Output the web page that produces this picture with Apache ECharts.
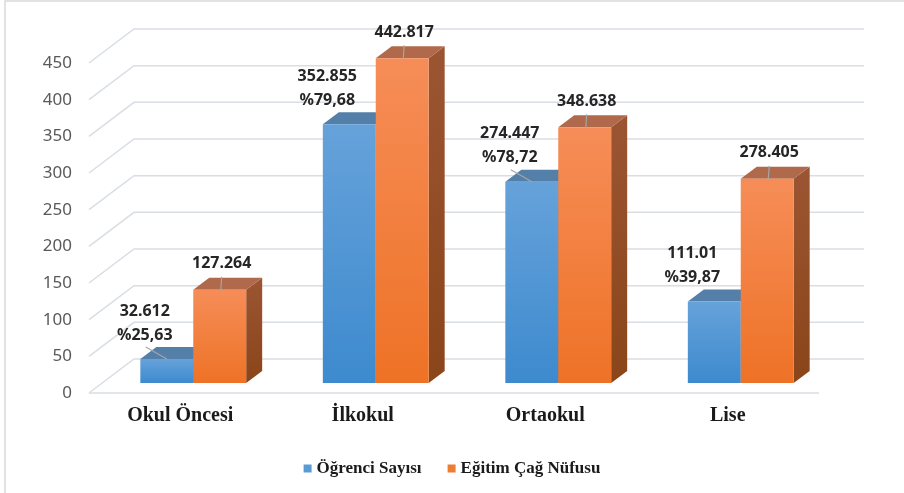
<!DOCTYPE html>
<html>
<head>
<meta charset="utf-8" />
<title>Öğrenci Sayısı / Eğitim Çağ Nüfusu</title>
<script src="https://cdn.jsdelivr.net/npm/echarts@6/dist/echarts.min.js"></script>
<style>
  html, body { margin: 0; padding: 0; background: #fff; }
  #main { width: 904px; height: 493px; }
</style>
</head>
<body>
<div id="main"></div>
<script>
// verileri
var categories = ['Okul Öncesi', 'İlkokul', 'Ortaokul', 'Lise'];
var ogrenciSayisi = [32.612, 352.855, 274.447, 111.01];
var ogrenciLabels = ['32.612', '352.855', '274.447', '111.01'];
var ogrenciOran = ['%25,63', '%79,68', '%78,72', '%39,87'];
var nufus = [127.264, 442.817, 348.638, 278.405];
var nufusLabels = ['127.264', '442.817', '348.638', '278.405'];
var yTicks = [0, 50, 100, 150, 200, 250, 300, 350, 400, 450];
var seriesNames = ['Öğrenci Sayısı', 'Eğitim Çağ Nüfusu'];

// 3B görünüm ayarları
var WALL_DX = 45, WALL_DY = -34;   // arka duvar
var BAR_DX = 13, BAR_DY = -10;     // çubuk ön yüzü
var DEPTH_DX = 16, DEPTH_DY = -12; // çubuk derinliği
var blueLeader = [1, 0, 1, 0];
var labelFont = 'bold 16px "Noto Sans"';

function gridRender(params, api) {
  var v = api.value(1);
  var p = api.coord([0, v]);
  var band = api.size([1, 0])[0];
  var left = p[0] - band / 2;
  var right = left + band * categories.length;
  var st = { stroke: '#d9dee5', lineWidth: 1.5, fill: null };
  var ch = [
    { type: 'polyline', shape: { points: [[left, p[1]], [left + WALL_DX, p[1] + WALL_DY], [right + WALL_DX, p[1] + WALL_DY]] }, style: st }
  ];
  if (v === 0) {
    ch.push({ type: 'line', shape: { x1: left, y1: p[1], x2: right, y2: p[1] }, style: st });
  }
  return { type: 'group', children: ch };
}

function barRender(which) {
  return function (params, api) {
    var idx = api.value(0), val = api.value(1);
    var base = api.coord([idx, 0]);
    var top = api.coord([idx, val]);
    var band = api.size([1, 0])[0];
    var w = band * 0.29;
    var x0 = which === 0 ? base[0] - w + BAR_DX : base[0] + BAR_DX;
    var x1 = x0 + w;
    var yb = base[1] + BAR_DY, yt = top[1] + BAR_DY;
    var front, topCol, side0, side1;
    if (which === 0) {
      front = ['#66a2da', '#3d8ace'];
      topCol = '#537fa8';
      side0 = '#3f6d98'; side1 = '#2f5b85';
    } else {
      front = ['#f68d58', '#ee7226'];
      topCol = '#b0694a';
      side0 = '#9b5533'; side1 = '#8a4519';
    }
    var ch = [];
    ch.push({
      type: 'polygon',
      shape: { points: [[x1, yt], [x1 + DEPTH_DX, yt + DEPTH_DY], [x1 + DEPTH_DX, yb + DEPTH_DY], [x1, yb]] },
      style: { fill: new echarts.graphic.LinearGradient(0, 0, 0, 1, [{ offset: 0, color: side0 }, { offset: 1, color: side1 }]) }
    });
    ch.push({
      type: 'polygon',
      shape: { points: [[x0, yt], [x1, yt], [x1 + DEPTH_DX, yt + DEPTH_DY], [x0 + DEPTH_DX, yt + DEPTH_DY]] },
      style: { fill: topCol }
    });
    ch.push({
      type: 'rect',
      shape: { x: x0, y: yt, width: w, height: yb - yt },
      style: { fill: new echarts.graphic.LinearGradient(0, 0, 0, 1, [{ offset: 0, color: front[0] }, { offset: 1, color: front[1] }]) }
    });
    var cx = (x0 + x1) / 2;
    var leader = { stroke: '#a6a6a6', lineWidth: 1.2 };
    if (which === 0) {
      var lx = cx - 22, ly = yt - 36;
      if (blueLeader[idx]) {
        ch.push({ type: 'line', shape: { x1: cx - 21, y1: yt - 12, x2: cx, y2: yt }, style: leader });
      }
      ch.push({ type: 'text', style: { text: ogrenciLabels[idx], x: lx, y: ly - 12, font: labelFont, fill: '#262626', align: 'center', verticalAlign: 'middle' } });
      ch.push({ type: 'text', style: { text: ogrenciOran[idx], x: lx, y: ly + 12, font: labelFont, fill: '#262626', align: 'center', verticalAlign: 'middle' } });
    } else {
      ch.push({ type: 'line', shape: { x1: cx + 2, y1: yt - 13, x2: cx + 1, y2: yt + 1 }, style: leader });
      ch.push({ type: 'text', style: { text: nufusLabels[idx], x: cx + 2, y: yt - 26, font: labelFont, fill: '#262626', align: 'center', verticalAlign: 'middle' } });
    }
    return { type: 'group', children: ch };
  };
}

var myChart = echarts.init(document.getElementById('main'));
var option = {
  animation: false,
  backgroundColor: '#ffffff',
  graphic: [{
    type: 'rect',
    shape: { x: 5, y: 1, width: 960, height: 560 },
    style: { fill: null, stroke: '#d9d9d9', lineWidth: 1.5 },
    silent: true
  }],
  grid: { left: 89, right: 85, top: 63, bottom: 100 },
  legend: {
    data: [
      { name: seriesNames[0], icon: 'rect' },
      { name: seriesNames[1], icon: 'rect' }
    ],
    left: 'center',
    top: 455,
    itemWidth: 8,
    itemHeight: 8,
    itemGap: 26,
    textStyle: { fontFamily: 'Liberation Serif', fontWeight: 'bold', fontSize: 17, color: '#1a1a1a' }
  },
  xAxis: {
    type: 'category',
    data: categories,
    axisLine: { show: false },
    axisTick: { show: false },
    axisLabel: { margin: 13, fontFamily: 'Liberation Serif', fontWeight: 'bold', fontSize: 20, color: '#1a1a1a' }
  },
  yAxis: {
    type: 'value',
    min: 0,
    max: 450,
    interval: 50,
    axisLine: { show: false },
    axisTick: { show: false },
    splitLine: { show: false },
    axisLabel: { margin: 17, fontFamily: 'Noto Sans', fontSize: 17, color: '#595959' }
  },
  series: [
    {
      name: 'grid3d',
      type: 'custom',
      silent: true,
      clip: false,
      renderItem: gridRender,
      data: yTicks.map(function (v) { return [0, v]; }),
      z: 1
    },
    {
      name: seriesNames[0],
      type: 'custom',
      clip: false,
      itemStyle: { color: '#5b9bd5' },
      renderItem: barRender(0),
      data: ogrenciSayisi.map(function (v, i) { return [i, v]; }),
      z: 2
    },
    {
      name: seriesNames[1],
      type: 'custom',
      clip: false,
      itemStyle: { color: '#ed7d31' },
      renderItem: barRender(1),
      data: nufus.map(function (v, i) { return [i, v]; }),
      z: 3
    }
  ]
};
myChart.setOption(option);
</script>
</body>
</html>
